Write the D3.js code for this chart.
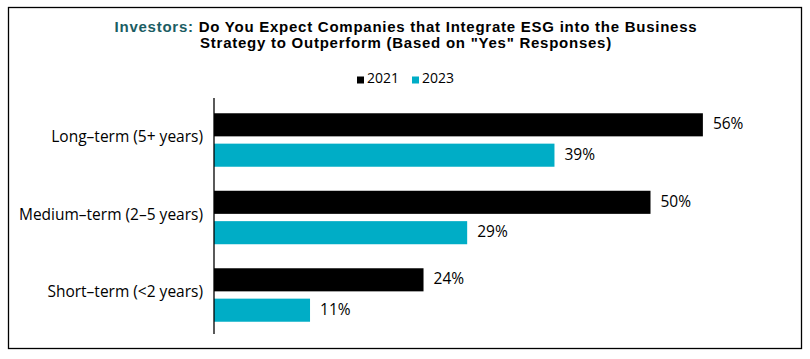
<!DOCTYPE html>
<html lang="en">
<head>
   <meta charset="UTF-8">
   <title>Investors ESG Outperform</title>
   <script src="https://cdn.jsdelivr.net/npm/d3@7"></script>
   <style>
       body { margin: 0; background: #fff; }
       svg { display: block; font-family: "Open Sans", Lato, sans-serif; }
   </style>
</head>
<body>
   <svg width="810" height="359"></svg>

   <script>
       // Data
       const categories = ['Long-term (5+ years)', 'Medium-term (2-5 years)', 'Short-term (<2 years)'];
       const years = ['2021', '2023'];
       const values2021 = [56, 50, 24];
       const values2023 = [39, 29, 11];
       const colors = ['#000000', '#00adc6'];

       const rows = categories.map((c, i) => ({ cat: c, vals: [values2021[i], values2023[i]] }));

       const svg = d3.select('svg');

       // frame
       svg.append('rect')
           .attr('x', 8.5).attr('y', 7.5)
           .attr('width', 793).attr('height', 341)
           .attr('fill', 'none').attr('stroke', '#000').attr('stroke-width', 1.3);

       // title, two lines (Liberation Sans: tighter line box, lines sit close like the original)
       const titleFont = '"Liberation Sans", Arial, sans-serif';
       const line1 = svg.append('text')
           .attr('x', 406).attr('y', 31.5)
           .attr('text-anchor', 'middle')
           .attr('font-family', titleFont)
           .attr('font-weight', 700)
           .attr('font-size', 15)
           .attr('letter-spacing', 0.75);
       line1.append('tspan').attr('fill', '#1b5d63').text('Investors: ');
       line1.append('tspan').attr('fill', '#000').text('Do You Expect Companies that Integrate ESG into the Business');
       svg.append('text')
           .attr('x', 406).attr('y', 48.4)
           .attr('text-anchor', 'middle')
           .attr('font-family', titleFont)
           .attr('font-weight', 700)
           .attr('font-size', 15)
           .attr('letter-spacing', 0.75)
           .text('Strategy to Outperform (Based on "Yes" Responses)');

       // scales
       const x = d3.scaleLinear().domain([0, 60]).range([214, 737.8]);
       const y = d3.scaleBand().domain(categories).range([101.25, 333.75])
           .paddingInner(0.31).paddingOuter(0.155);
       const ySub = d3.scaleBand().domain(years).range([0, y.bandwidth()]).paddingInner(0.24);

       // legend
       const legend = svg.append('g').attr('font-size', 14);
       const legX = [357, 412];
       years.forEach((yr, i) => {
           legend.append('rect')
               .attr('x', legX[i]).attr('y', 76.5)
               .attr('width', 7).attr('height', 7)
               .attr('fill', colors[i]);
           legend.append('text')
               .attr('x', legX[i] + 10).attr('y', 83)
               .text(yr);
       });

       // bars
       const groups = svg.append('g')
           .selectAll('g')
           .data(rows)
           .join('g')
           .attr('transform', d => `translate(0,${y(d.cat)})`);

       groups.selectAll('rect')
           .data(d => d.vals.map((v, i) => ({ v, yr: years[i], i })))
           .join('rect')
           .attr('x', x(0))
           .attr('y', d => ySub(d.yr))
           .attr('width', d => x(d.v) - x(0))
           .attr('height', ySub.bandwidth())
           .attr('fill', d => colors[d.i]);

       groups.selectAll('text.val')
           .data(d => d.vals.map((v, i) => ({ v, yr: years[i], i })))
           .join('text')
           .attr('class', 'val')
           .attr('x', d => x(d.v) + 10)
           .attr('y', d => ySub(d.yr) + ySub.bandwidth() / 2)
           .attr('dy', '0.3em')
           .attr('font-size', 15.5)
           .text(d => d.v + '%');

       // category axis
       const yAxis = svg.append('g')
           .attr('transform', `translate(${x(0)},0)`)
           .call(d3.axisLeft(y).tickSize(0).tickPadding(11));
       yAxis.select('.domain').remove();
       yAxis.selectAll('text')
           .attr('font-size', 15.5)
           .attr('font-family', '"Open Sans", Lato, sans-serif')
           .attr('fill', '#000')
           .attr('dy', '0.15em')
           .text(d => d.replace('-', '\u2013').replace('2-5', '2\u20135'));

       svg.append('line')
           .attr('x1', x(0)).attr('x2', x(0))
           .attr('y1', 98).attr('y2', 334)
           .attr('stroke', '#000').attr('stroke-width', 1.3);
   </script>
</body>
</html>
